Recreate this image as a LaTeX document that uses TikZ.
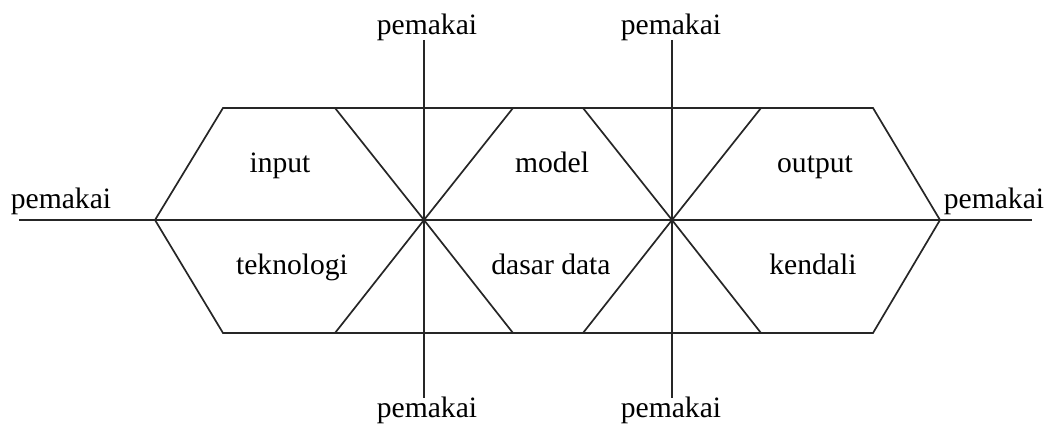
\documentclass[tikz,border=0pt]{standalone}
\usepackage{fontspec}
\setmainfont{Liberation Serif}
\begin{document}
\begin{tikzpicture}[x=0.5pt,y=-0.5pt,
  ln/.style={line width=0.85pt,draw=black!85},
  lbl/.style={inner sep=0pt,anchor=base,font=\fontsize{14.8pt}{17pt}\selectfont}]
\useasboundingbox (0,0) rectangle (1049,426);
% hexagon
\coordinate (L) at (155,220);
\coordinate (R) at (940,220);
\coordinate (TL) at (223,108);
\coordinate (BL) at (223,333);
\coordinate (TR) at (873,108);
\coordinate (BR) at (873,333);
% crossings
\coordinate (X1) at (424,220);
\coordinate (X2) at (672,220);
\coordinate (a1t) at (335,108);
\coordinate (b1t) at (513,108);
\coordinate (a1b) at (335,333);
\coordinate (b1b) at (513,333);
\coordinate (a2t) at (583,108);
\coordinate (b2t) at (761,108);
\coordinate (a2b) at (583,333);
\coordinate (b2b) at (761,333);
% axis ends
\coordinate (hl) at (19,220);
\coordinate (hr) at (1032,220);
\coordinate (v1t) at (424,40);
\coordinate (v1b) at (424,398);
\coordinate (v2t) at (672,40);
\coordinate (v2b) at (672,398);
\draw[ln] (L) -- (TL) -- (TR) -- (R) -- (BR) -- (BL) -- cycle;
\draw[ln] (hl) -- (hr);
\draw[ln] (v1t) -- (v1b);
\draw[ln] (v2t) -- (v2b);
\draw[ln] (a1t) -- (X1) -- (b1b);
\draw[ln] (b1t) -- (X1) -- (a1b);
\draw[ln] (a2t) -- (X2) -- (b2b);
\draw[ln] (b2t) -- (X2) -- (a2b);
% labels
\node[lbl] (pl) at (61,209) {pemakai};
\node[lbl] (pr) at (994,209) {pemakai};
\node[lbl] (pt1) at (427,35) {pemakai};
\node[lbl] (pt2) at (671,35) {pemakai};
\node[lbl] (pb1) at (427,418) {pemakai};
\node[lbl] (pb2) at (671,418) {pemakai};
\node[lbl] (input) at (280,173) {input};
\node[lbl] (tekn) at (292,275) {teknologi};
\node[lbl] (model) at (552,173) {model};
\node[lbl] (dasar) at (551,275) {dasar data};
\node[lbl] (output) at (815,173) {output};
\node[lbl] (kendali) at (813,275) {kendali};
\end{tikzpicture}
\end{document}
